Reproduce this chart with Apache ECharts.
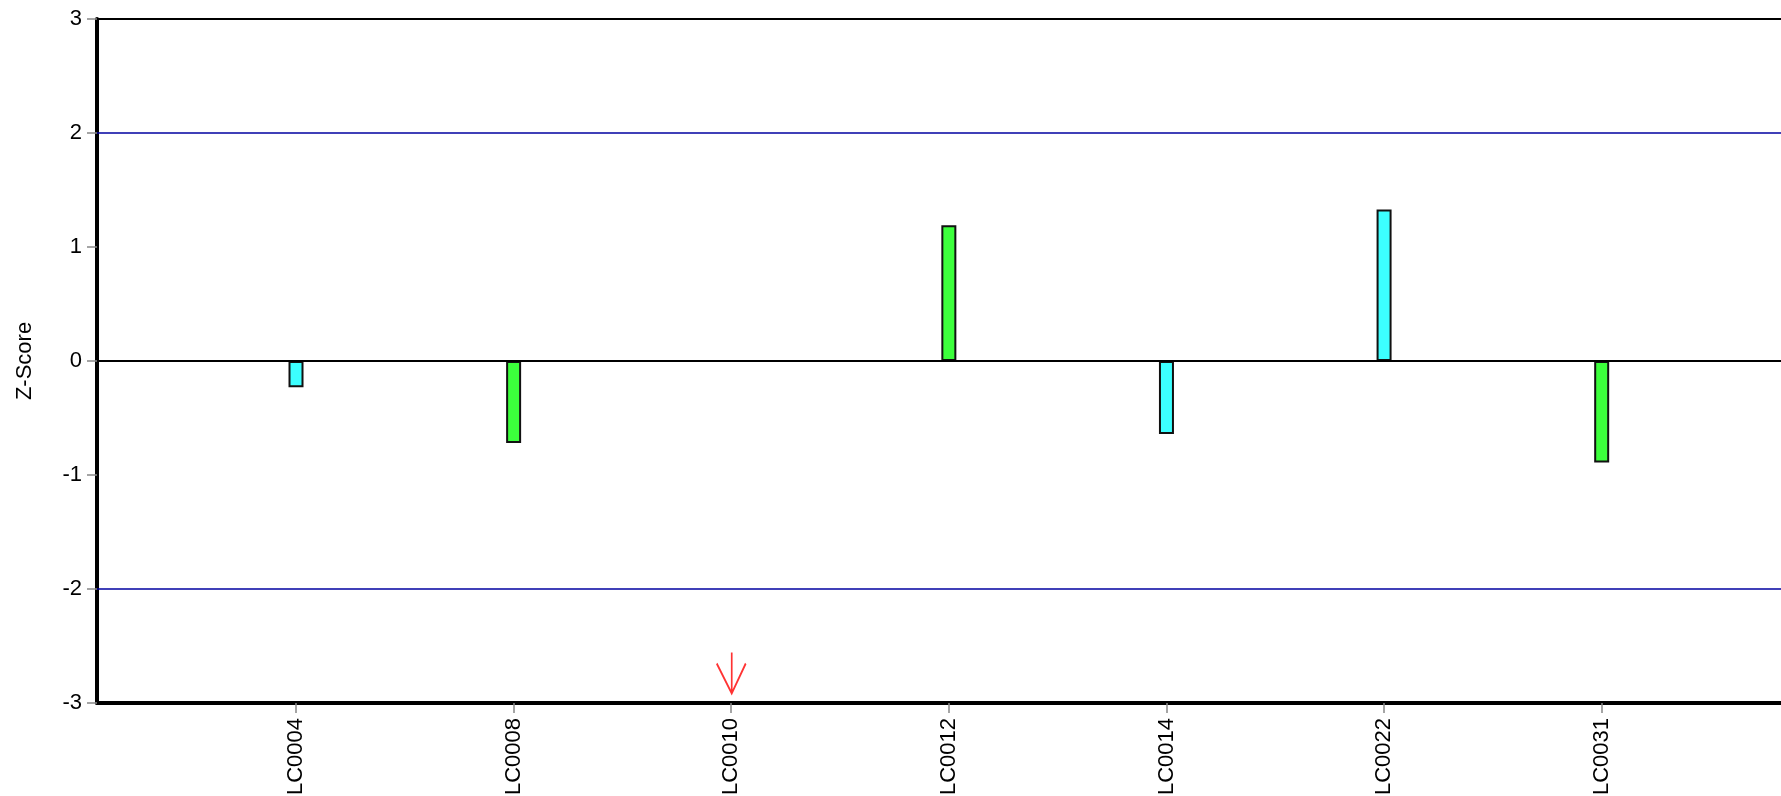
<!DOCTYPE html>
<html>
<head>
<meta charset="utf-8">
<title>Z-Score</title>
<script src="https://cdn.jsdelivr.net/npm/echarts@6/dist/echarts.min.js"></script>
<style>
  html, body { margin: 0; padding: 0; background: #fff; }
  #chart { width: 1781px; height: 796px; }
</style>
</head>
<body>
<div id="chart"></div>
<script>
// data
const categories = ['LC0004', 'LC0008', 'LC0010', 'LC0012', 'LC0014', 'LC0022', 'LC0031'];
const zScores = [-0.23, -0.72, null, 1.19, -0.64, 1.33, -0.89];
const barColors = ['#3cffff', '#3cff3c', null, '#3cff3c', '#3cffff', '#3cffff', '#3cff3c'];
const offScale = ['LC0010'];          // values below the axis, shown by the arrow
const limitLines = [-2, 2];
const yTicks = [-3, -2, -1, 0, 1, 2, 3];

const chart = echarts.init(document.getElementById('chart'));

const idx = categories.map((c, i) => i);
const barData = [];
zScores.forEach((v, i) => {
  if (v === null) return;
  barData.push({ value: [i, v], itemStyle: { color: barColors[i] } });
});
const arrowData = offScale.map(c => [categories.indexOf(c), yTicks[0]]);

const option = {
  animation: false,
  textStyle: { fontFamily: 'Liberation Sans, Arial, sans-serif' },
  grid: { left: 97, top: 19, right: 0, bottom: 93, containLabel: false, outerBoundsMode: 'none' },
  xAxis: {
    type: 'value',
    min: -0.9145,
    max: 6.824,
    splitLine: { show: false },
    axisLine: { show: true, onZero: false, lineStyle: { color: '#000', width: 4 } },
    axisTick: { show: true, customValues: idx, length: 10, lineStyle: { color: '#888', width: 1.5 } },
    axisLabel: {
      customValues: idx,
      rotate: 90,
      margin: 15,
      fontSize: 22,
      color: '#000',
      formatter: v => categories[Math.round(v)]
    }
  },
  yAxis: {
    type: 'value',
    min: yTicks[0],
    max: yTicks[yTicks.length - 1],
    interval: 1,
    name: 'Z-Score',
    nameLocation: 'middle',
    nameRotate: 90,
    nameGap: 61,
    nameTextStyle: { fontSize: 22, color: '#000' },
    splitLine: { show: false },
    axisLine: { show: true, onZero: false, lineStyle: { color: '#000', width: 4 } },
    axisTick: { show: true, length: 10, lineStyle: { color: '#888', width: 1.5 } },
    axisLabel: { fontSize: 22, color: '#000', margin: 15 }
  },
  series: [
    {
      type: 'bar',
      barWidth: 15,
      data: barData,
      itemStyle: { borderColor: '#111', borderWidth: 2 },
      markLine: {
        silent: true,
        symbol: 'none',
        label: { show: false },
        data: [
          { yAxis: yTicks[yTicks.length - 1], lineStyle: { color: '#000', width: 2, type: 'solid' } },
          { yAxis: 0, lineStyle: { color: '#000', width: 2, type: 'solid' } },
          ...limitLines.map(v => ({ yAxis: v, lineStyle: { color: '#0000a0', width: 1.5, type: 'solid' } }))
        ]
      },
      z: 3
    },
    {
      type: 'scatter',
      data: arrowData,
      symbol: 'path://M15 0 L15 41 M0 11 L15 41 L29 11',
      symbolSize: [29, 41],
      symbolOffset: [0, -30],
      itemStyle: { color: 'none', borderColor: '#ff0000', borderWidth: 2 },
      silent: true,
      clip: false
    }
  ]
};

chart.setOption(option);
</script>
</body>
</html>
